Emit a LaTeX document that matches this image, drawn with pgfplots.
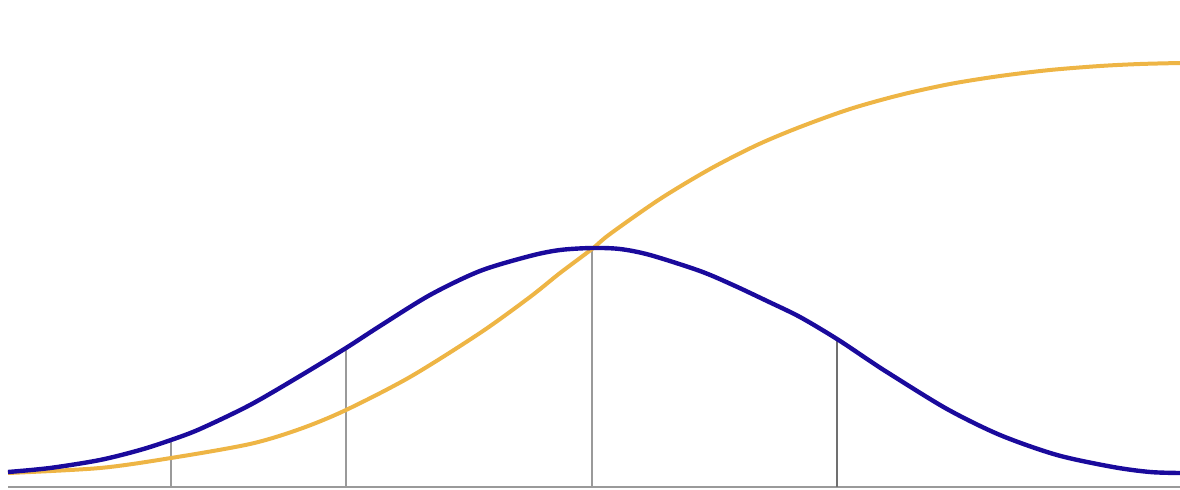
\documentclass[border=0pt]{standalone}
\usepackage{pgfplots}
\pgfplotsset{compat=1.18}
\definecolor{pdfblue}{HTML}{1A0A9C}
\definecolor{cdforange}{HTML}{EEB545}
\definecolor{lgray}{HTML}{9A9A9A}
\definecolor{dgray}{HTML}{707070}
\begin{document}
\begin{tikzpicture}
\begin{axis}[
  scale only axis,
  width=590pt, height=244.5pt,
  xmin=0, xmax=1180, ymin=0, ymax=489,
  hide axis,
]
\addplot[draw=none] coordinates {(0,0) (1180,489)};
% baseline
\addplot[lgray, line width=1pt] coordinates {(8,2) (1180,2)};
% vertical markers
\addplot[lgray, line width=1.2pt] coordinates {(171,2) (171,49)};
\addplot[lgray, line width=1.2pt] coordinates {(346,2) (346,141)};
\addplot[lgray, line width=1.2pt] coordinates {(592,2) (592,241)};
\addplot[dgray, line width=1.3pt] coordinates {(837,2) (837,150)};
% CDF
\addplot[cdforange, line width=2pt, smooth] coordinates {
(8,16) (100,21) (171,31) (250,45) (300,60) (346,79) (410,112) (480,156)
(530,192) (560,216) (592,240) (610,255) (660,290) (710,320) (757,344)
(800,362) (850,380) (900,394) (950,405) (1000,413) (1050,419) (1100,423)
(1140,425) (1180,426)};
% PDF
\addplot[pdfblue, line width=2.2pt, smooth] coordinates {
(8,17) (50,21) (100,29) (140,39) (171,49) (200,60) (250,84) (300,113) (346,141)
(380,163) (430,194) (480,218) (530,233) (560,239) (592,241) (620,240)
(650,234) (700,218) (733,204) (767,188) (800,172) (837,150) (870,128)
(890,115) (947,80) (1000,54) (1057,34) (1113,22) (1150,17) (1180,16)};
\end{axis}
\end{tikzpicture}
\end{document}
